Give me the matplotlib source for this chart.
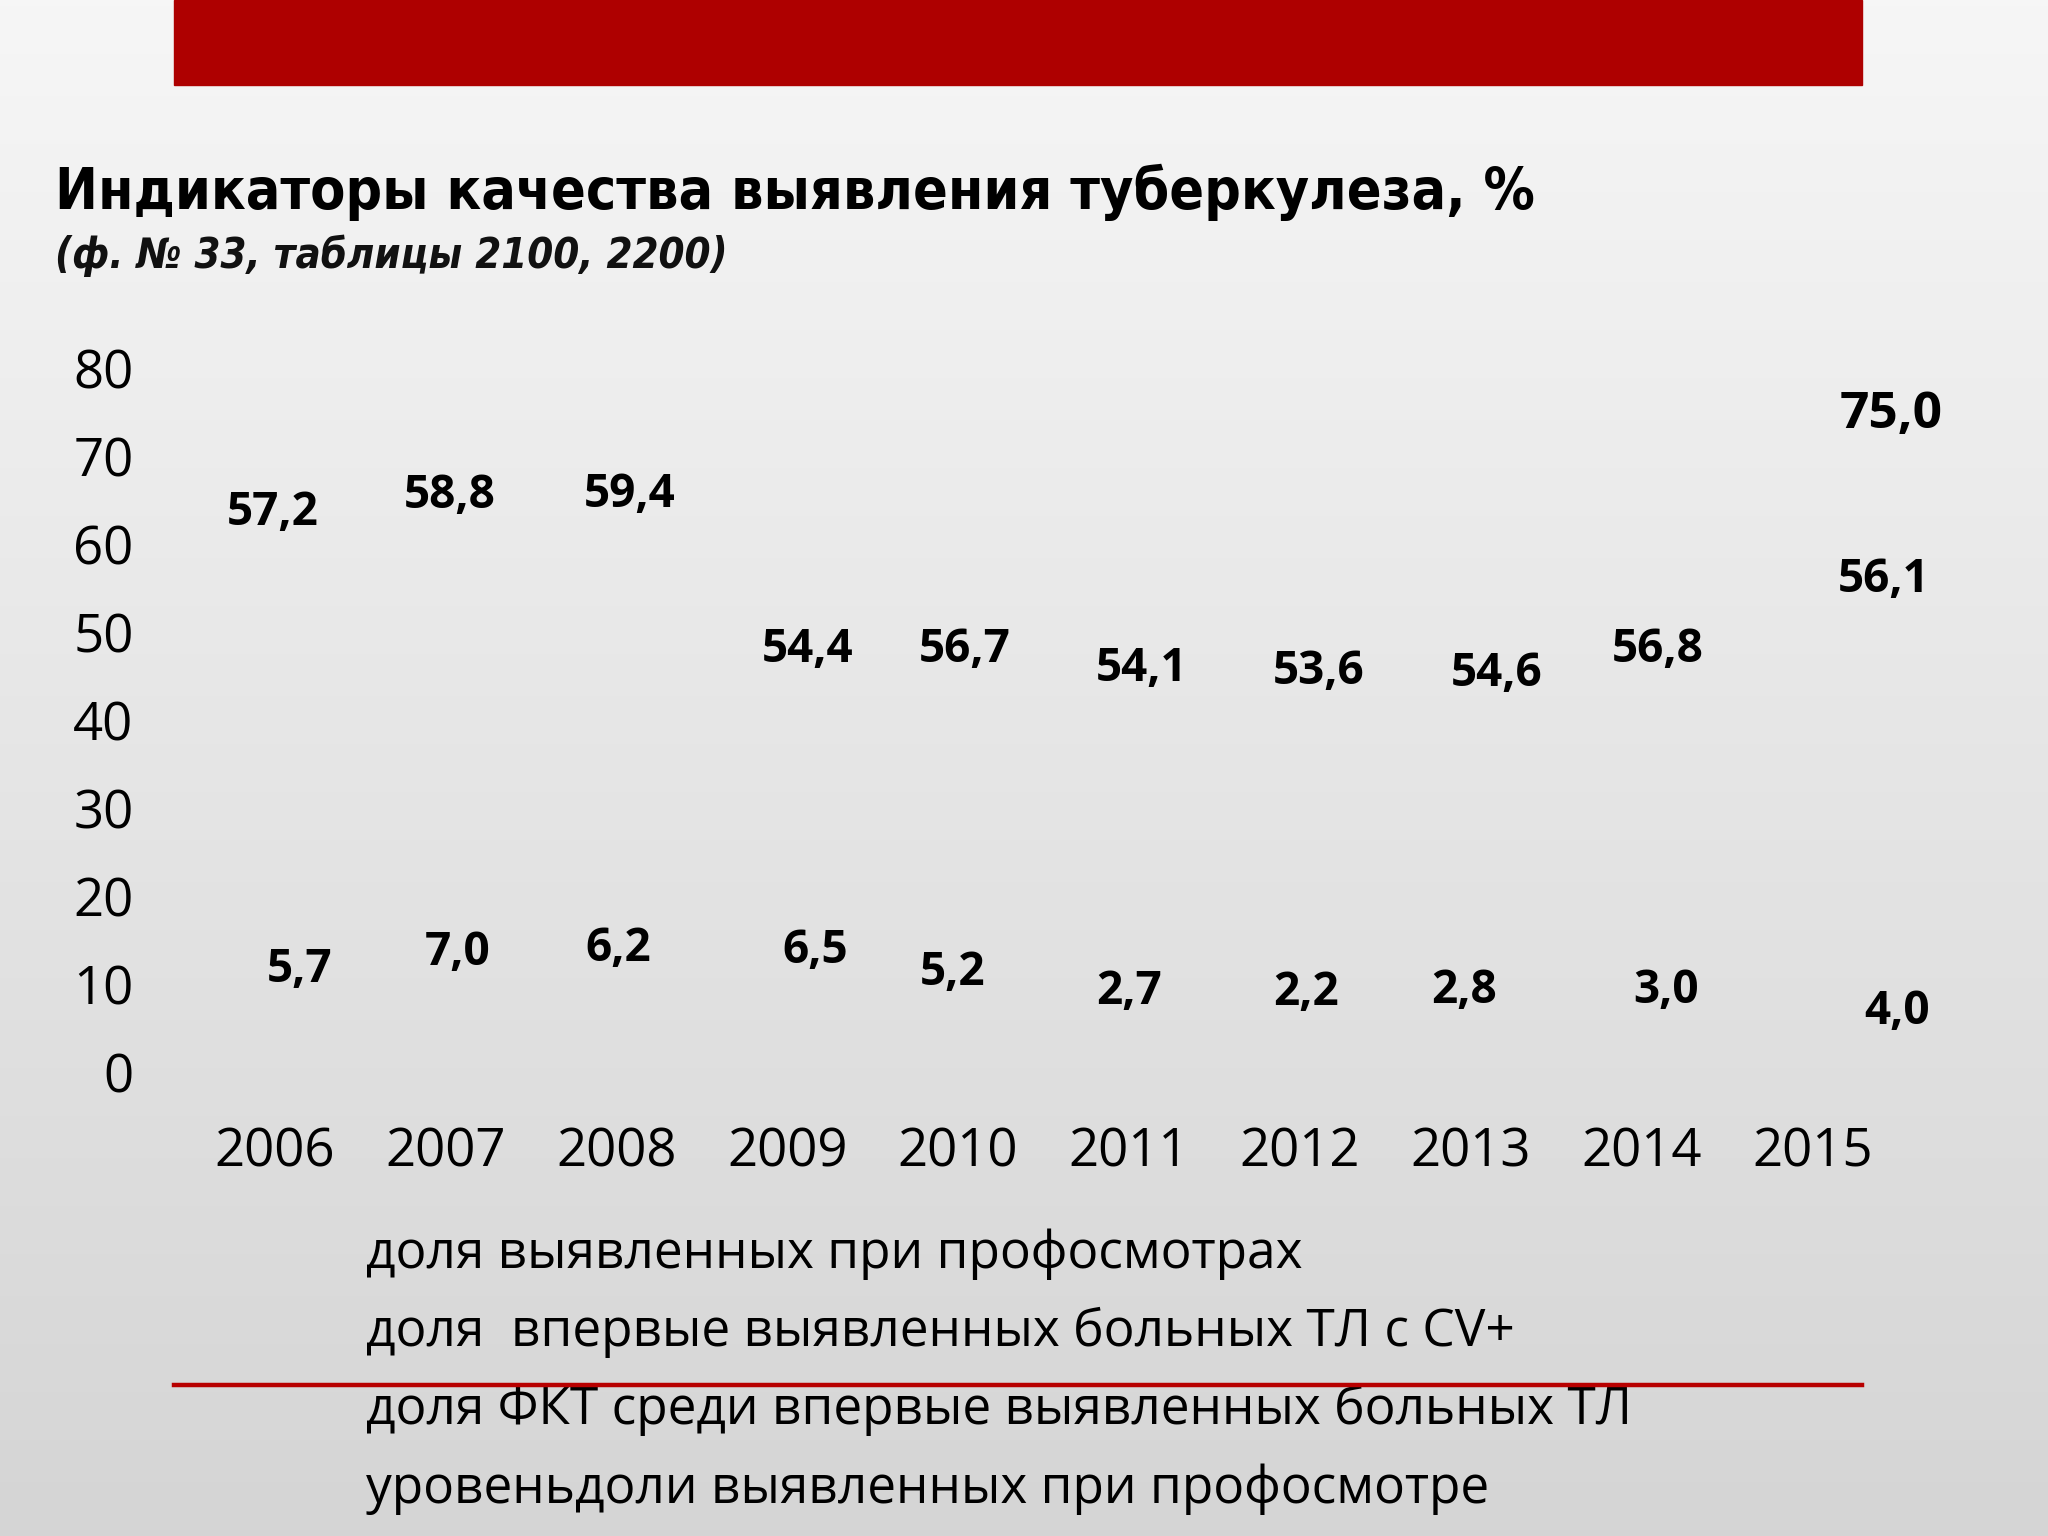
import numpy as np
import matplotlib
matplotlib.use("Agg")
import matplotlib.pyplot as plt
from matplotlib.patches import Rectangle
from matplotlib.lines import Line2D

years = ["2006", "2007", "2008", "2009", "2010", "2011", "2012", "2013", "2014", "2015"]
prof_share = [57.2, 58.8, 59.4, 54.4, 56.7, 54.1, 53.6, 54.6, 56.8, 56.1]
fkt_share = [5.7, 7.0, 6.2, 6.5, 5.2, 2.7, 2.2, 2.8, 3.0, 4.0]
prof_level = [np.nan] * 9 + [75.0]

legend_labels = [
    "доля выявленных при профосмотрах",
    "доля  впервые выявленных больных ТЛ с CV+",
    "доля ФКТ среди впервые выявленных больных ТЛ",
    "уровеньдоли выявленных при профосмотре",
]

# label offsets in pixels (labels sit away from the points in the slide)
prof_dx = [-2, 4, 13, 20, 7, 13, 19, 26, 16, 71]
prof_dy = [56, 59, 55, -56, -76, -73, -71, -82, -77, -1]
fkt_dx = [25, 12, 2, 28, -5, 0, 6, -7, 24, 85]
fkt_dy = [52, 58, 69, 64, 54, 57, 60, 57, 55, 25]
level_dx, level_dy = 79, -3

BODY = ["Open Sans", "DejaVu Sans"]
W, H = 2048, 1536

fig = plt.figure(figsize=(20.48, 15.36), dpi=100)

# background gradient
bg = fig.add_axes([0, 0, 1, 1], zorder=-10)
grad = np.linspace(0.965, 0.835, 256).reshape(-1, 1)
bg.imshow(np.dstack([grad, grad, grad]), aspect="auto", extent=[0, 1, 0, 1])
bg.set_xlim(0, 1)
bg.set_ylim(0, 1)
bg.axis("off")

# red bar on top and red line at bottom
fig.patches.append(Rectangle((174 / W, 1 - 85 / H), (1862 - 174) / W, 85 / H,
                             transform=fig.transFigure, color="#ae0000", zorder=1))
fig.lines.append(Line2D([174 / W, 1862 / W], [1 - 1385 / H, 1 - 1385 / H],
                        transform=fig.transFigure, color="#b80000", lw=3.2, zorder=1))

fig.text(55 / W, 1 - 209 / H, "Индикаторы качества выявления туберкулеза, %",
         family="DejaVu Sans", fontstretch="condensed", fontweight="bold",
         fontsize=41, va="baseline", ha="left")
fig.text(55 / W, 1 - 268 / H, "(ф. № 33, таблицы 2100, 2200)",
         family="DejaVu Sans", fontstretch="condensed", fontweight="bold",
         style="italic", fontsize=30, va="baseline", ha="left", color="#111111")

ax = fig.add_axes([189 / W, 1 - 1072 / H, (1898 - 189) / W, (1072 - 368) / H])
ax.patch.set_alpha(0)
x = np.arange(len(years))

# the series lines are not drawn on the slide, only their labels
l1, = ax.plot(x, prof_share, linestyle="none", label=legend_labels[0])
l2, = ax.plot([], [], linestyle="none", label=legend_labels[1])
l3, = ax.plot(x, fkt_share, linestyle="none", label=legend_labels[2])
l4, = ax.plot(x, prof_level, linestyle="none", label=legend_labels[3])

def fmt(v):
    return f"{v:.1f}".replace(".", ",")

for i, v in enumerate(prof_share):
    ax.annotate(fmt(v), (x[i], v), xytext=(prof_dx[i], prof_dy[i]), textcoords="offset pixels",
                ha="center", va="center", family=BODY, fontweight="bold", fontsize=33)
for i, v in enumerate(fkt_share):
    ax.annotate(fmt(v), (x[i], v), xytext=(fkt_dx[i], fkt_dy[i]), textcoords="offset pixels",
                ha="center", va="center", family=BODY, fontweight="bold", fontsize=33)
ax.annotate(fmt(prof_level[9]), (x[9], prof_level[9]), xytext=(level_dx, level_dy),
            textcoords="offset pixels", ha="center", va="center",
            family=BODY, fontweight="bold", fontsize=37)

ax.set_xlim(-0.5, len(years) - 0.5)
ax.set_ylim(0, 80)
ax.set_yticks(range(0, 81, 10))
ax.set_xticks(x)
ax.set_xticklabels(years)
ax.tick_params(length=0)
ax.tick_params(axis="y", pad=40)
ax.tick_params(axis="x", pad=39)
for lab in ax.get_xticklabels() + ax.get_yticklabels():
    lab.set_family(BODY)
    lab.set_fontsize(38)
for s in ax.spines.values():
    s.set_visible(False)

leg = ax.legend(handles=[l1, l2, l3, l4], loc="upper left",
                bbox_to_anchor=(366 / W, 1 - 1229 / H), bbox_transform=fig.transFigure,
                frameon=False, handlelength=0, handletextpad=0, borderpad=0,
                borderaxespad=0, labelspacing=0.52, prop={"family": BODY, "size": 37})

fig.savefig("out.png", dpi=100)
